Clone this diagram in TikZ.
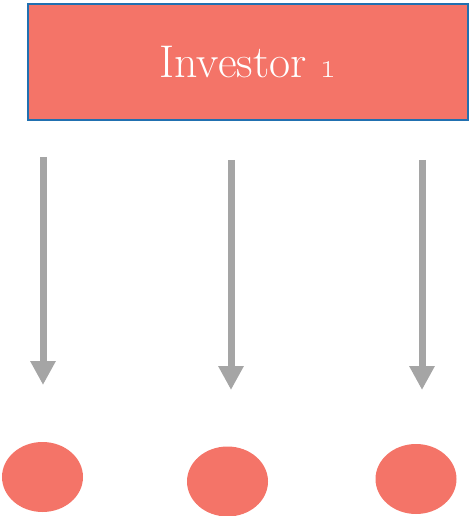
\documentclass[tikz,border=0pt]{standalone}
\usepackage{tikz}
\usetikzlibrary{arrows.meta,shapes,positioning}
\definecolor{salmon}{HTML}{F47468}
\definecolor{boxline}{HTML}{2170B0}
\definecolor{arrowgray}{HTML}{A5A5A5}

\begin{document}
\begin{tikzpicture}[x=1bp,y=-1bp,
    investorbox/.style={draw=boxline, line width=1.5bp, fill=salmon, text=white,
      minimum width=440bp, minimum height=116bp, inner sep=0pt,
      font=\fontsize{46}{54}\selectfont},
    flowarrow/.style={draw=arrowgray, line width=7bp,
      -{Triangle[width=24bp,length=24bp]}},
    outlet/.style={ellipse, fill=salmon, inner sep=0pt,
      minimum width=81bp, minimum height=70bp}]
  \useasboundingbox (0,0) rectangle (470,516);
  \node[investorbox] (investor) at (248,62) {Investor \oldstylenums{1}};
  \node[outlet] (o1) at (42.5,477) {};
  \node[outlet] (o2) at (227.5,481.5) {};
  \node[outlet] (o3) at (416,479) {};
  \coordinate (s1) at (43,157);  \coordinate (t1) at (43,385);
  \coordinate (s2) at (231,160); \coordinate (t2) at (231,390);
  \coordinate (s3) at (422,160); \coordinate (t3) at (422,390);
  \draw[flowarrow] (s1) -- (t1);
  \draw[flowarrow] (s2) -- (t2);
  \draw[flowarrow] (s3) -- (t3);
\end{tikzpicture}
\end{document}
